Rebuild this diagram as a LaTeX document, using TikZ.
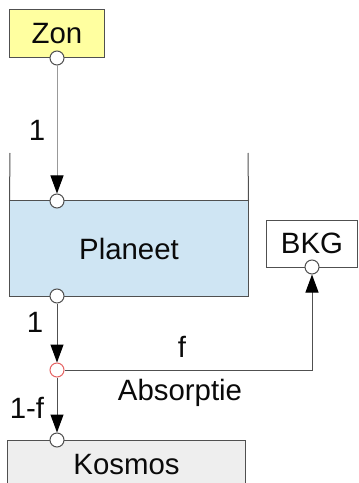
\documentclass[tikz,border=0pt]{standalone}
\usepackage{fontspec}
\setmainfont{Liberation Sans}
\usetikzlibrary{arrows.meta,positioning}
\definecolor{linec}{RGB}{80,80,80}
\definecolor{zonfill}{RGB}{255,255,160}
\definecolor{planfill}{RGB}{207,229,243}
\definecolor{kosfill}{RGB}{238,238,238}
\definecolor{txt}{RGB}{10,10,10}
\definecolor{redport}{RGB}{230,100,100}
\tikzset{
  box/.style={draw=linec, line width=1bp, inner sep=0pt, text=txt, font=\fontsize{29.5}{35}\selectfont},
  port/.style={circle, draw=linec, fill=white, line width=1bp, minimum size=14bp, inner sep=0pt},
  conn/.style={draw=linec, line width=1bp},
  flow/.style={conn, -{Triangle[length=18bp,width=13bp,color=black,fill=black]}},
  lbl/.style={text=txt, inner sep=0pt, font=\fontsize{29.5}{35}\selectfont},
}
\begin{document}
\begin{tikzpicture}[x=1bp,y=-1bp]
\useasboundingbox (0,0) rectangle (358,483);
% boxes
\node[box, fill=zonfill, minimum width=94bp, minimum height=48bp] (zon) at (57,34) {Zon};
\node[box, fill=planfill, minimum width=238bp, minimum height=95bp] (planet) at (129,248.5) {Planeet};
\node[box, fill=white, minimum width=91bp, minimum height=47bp] (bkg) at (312,243.5) {BKG};
\node[box, fill=kosfill, minimum width=237bp, minimum height=50bp] (kosmos) at (126.5,465) {Kosmos};
% container walls
\coordinate (wl) at (10,153);
\coordinate (wr) at (248,153);
\draw[conn] (planet.north west) -- (wl);
\draw[conn] (planet.north east) -- (wr);
% ports
\node[port] (pzon) at (57,58) {};
\node[port] (ptop) at (57,201) {};
\node[port] (pbot) at (57,296) {};
\node[port, draw=redport] (pabs) at (57,370) {};
\node[port] (pkos) at (57,440) {};
\node[port] (pbkg) at (312,267) {};
% connectors
\draw[flow, draw=gray!80] (pzon) -- (ptop);
\draw[flow] (pbot) -- (pabs);
\draw[flow] (pabs) -- (pkos);
\draw[flow] (pabs) -| (pbkg);
% labels
\node[lbl] (l1) at (37,130) {1};
\node[lbl] (l2) at (35,322) {1};
\node[lbl] (lf) at (182,347) {f};
\node[lbl] (labs) at (180,393) {Absorptie};
\node[lbl] (l1f) at (27,408) {1-f};
\end{tikzpicture}
\end{document}
